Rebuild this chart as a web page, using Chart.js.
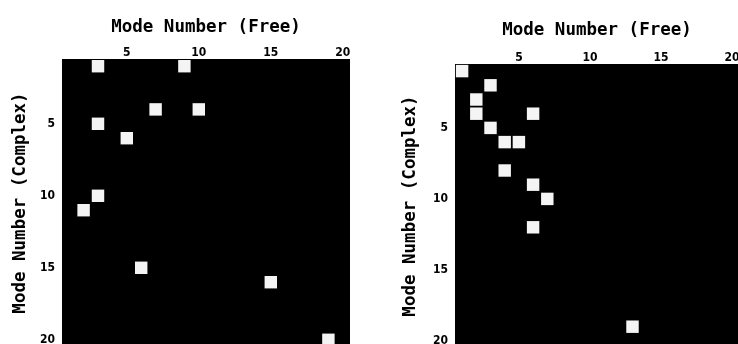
<!DOCTYPE html>
<html>
<head>
<meta charset="utf-8">
<script src="https://cdn.jsdelivr.net/npm/chart.js@4/dist/chart.umd.min.js"></script>
<style>
  html, body { margin: 0; padding: 0; background: #fff; }
  #wrap { position: relative; width: 738px; height: 344px; overflow: hidden; }
  canvas { position: absolute; top: 0; }
  #left { left: 0; }
  #right { left: 370px; }
</style>
</head>
<body>
<div id="wrap">
  <canvas id="left" width="350" height="347"></canvas>
  <canvas id="right" width="369" height="348"></canvas>
</div>
<script>
// datos (modo libre vs modo complejo)
const TICKS = [5, 10, 15, 20];
const LEFT_FREE    = [3, 9, 7, 10, 3, 5, 3, 2, 6, 15, 19];
const LEFT_COMPLEX = [1, 1, 4, 4, 5, 6, 10, 11, 15, 16, 20];
const RIGHT_FREE    = [1, 3, 2, 2, 6, 3, 4, 5, 4, 6, 7, 6, 13];
const RIGHT_COMPLEX = [1, 2, 3, 4, 4, 5, 6, 6, 8, 9, 10, 12, 19];
const X_TITLE = 'Mode Number (Free)';
const Y_TITLE = 'Mode Number (Complex)';

(() => {
  const tickFont = { family: '"DejaVu Sans Condensed", "DejaVu Sans", sans-serif', size: 12, weight: 'bold' };
  const titleFont = { family: '"DejaVu Sans Mono", "Liberation Mono", monospace', size: 17.5, weight: 'bold' };

  // fondo negro del area de la matriz
  const blackArea = {
    id: 'blackArea',
    beforeDatasetsDraw(chart) {
      const a = chart.chartArea;
      const ctx = chart.ctx;
      ctx.save();
      ctx.fillStyle = '#000';
      ctx.fillRect(a.left, a.top, a.right - a.left, a.bottom - a.top);
      ctx.restore();
    }
  };

  // quitar el relleno extra que Chart.js deja para las etiquetas de los extremos
  function noPad(s) {
    s.paddingLeft = 0; s.paddingRight = 0; s.paddingTop = 0; s.paddingBottom = 0;
  }

  function makeChart(id, xs, ys, yAxisW, xAxisH, yTitlePad, xTitlePad) {
    const pts = xs.map((x, i) => ({ x, y: ys[i] }));
    return new Chart(document.getElementById(id), {
      type: 'scatter',
      data: { datasets: [{ data: pts, pointStyle: 'rect', pointRadius: 8.8, pointHoverRadius: 8.8,
        backgroundColor: '#f4f4f4', borderWidth: 0 }] },
      options: {
        responsive: false, animation: false, devicePixelRatio: 1,
        layout: { padding: 0, autoPadding: false },
        plugins: { legend: { display: false }, tooltip: { enabled: false } },
        scales: {
          x: {
            type: 'linear', position: 'top', min: 0.5, max: 20.5,
            grid: { display: false, drawTicks: false }, border: { display: false },
            afterBuildTicks: s => { s.ticks = TICKS.map(v => ({ value: v })); },
            afterFit: s => { s.height = xAxisH; noPad(s); },
            ticks: { color: '#000', font: tickFont, padding: -1, maxRotation: 0 },
            title: { display: true, text: X_TITLE, color: '#000', font: titleFont, padding: { top: xTitlePad, bottom: 0 } }
          },
          y: {
            type: 'linear', reverse: true, min: 0.5, max: 20.5,
            grid: { display: false, drawTicks: false }, border: { display: false },
            afterBuildTicks: s => { s.ticks = TICKS.map(v => ({ value: v })); },
            afterFit: s => { s.width = yAxisW; noPad(s); },
            ticks: { color: '#000', font: tickFont, padding: 7 },
            title: { display: true, text: Y_TITLE, color: '#000', font: titleFont, padding: { top: yTitlePad, bottom: 0 } }
          }
        }
      },
      plugins: [blackArea]
    });
  }

  makeChart('left', LEFT_FREE, LEFT_COMPLEX, 62, 59, 10, 17);
  makeChart('right', RIGHT_FREE, RIGHT_COMPLEX, 85, 64, 30, 20);
})();
</script>
</body>
</html>
